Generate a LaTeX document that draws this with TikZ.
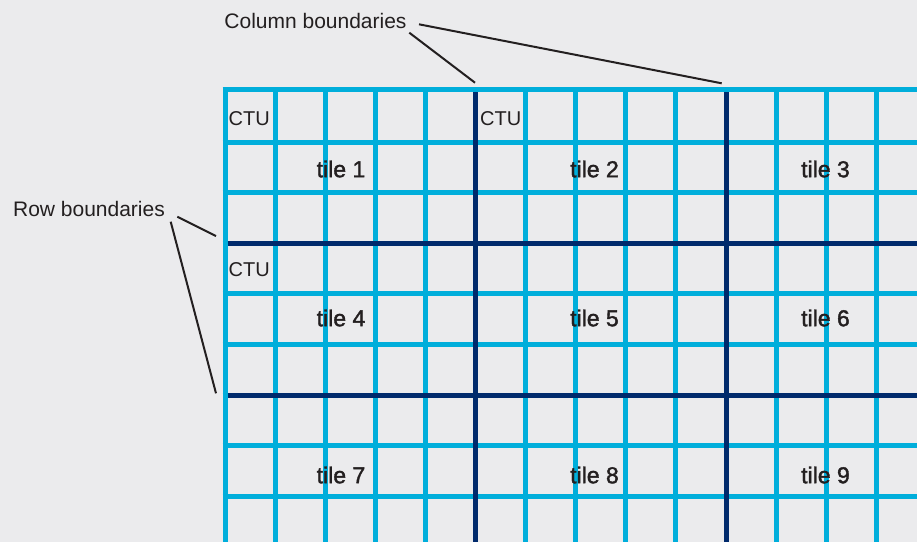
\documentclass[tikz,border=0pt]{standalone}
\usepackage{fontspec}
\setmainfont{Liberation Sans}
\newfontfamily\tilefont[FakeBold=1.6]{Liberation Sans}
\definecolor{bgc}{HTML}{EBEBED}
\definecolor{gridc}{HTML}{00AEDB}
\definecolor{tilec}{HTML}{002A6C}
\definecolor{txtc}{HTML}{231F20}
\tikzset{
  lightline/.style={draw=gridc,line width=5pt},
  darkline/.style={draw=tilec,line width=5pt},
  leader/.style={draw=txtc,line width=2pt},
  lbl/.style={text=txtc,inner sep=0pt,font=\fontsize{21}{24}\selectfont},
  ctu/.style={text=txtc,inner sep=0pt,anchor=west,font=\fontsize{20}{24}\selectfont},
  tilelbl/.style={text=txtc,inner sep=0pt,font=\tilefont\fontsize{23}{26}\selectfont}
}
\begin{document}
\begin{tikzpicture}[x=1pt,y=-1pt]
\fill[bgc] (0,0) rectangle (917,542);
\useasboundingbox (0,0) rectangle (917,542);
% light grid
\foreach \k in {0,...,13}
  \draw[lightline] ({225+50.1*\k},87) -- ({225+50.1*\k},542);
\foreach \y in {89.5,142,192.6,243.2,293.8,344.4,395,445.6,496.2}
  \draw[lightline] (222.5,\y) -- (917,\y);
% tile boundaries
\draw[darkline] (475.5,92) -- (475.5,542);
\draw[darkline] (726,92) -- (726,542);
\draw[darkline] (227.5,243.2) -- (917,243.2);
\draw[darkline] (227.5,395) -- (917,395);
% CTU labels
\node[ctu] (ctu1) at (228.5,118.3) {CTU};
\node[ctu] (ctu2) at (480,118.3) {CTU};
\node[ctu] (ctu3) at (228.5,270) {CTU};
% tile labels
\node[tilelbl] (t1) at (341,169) {tile 1};
\node[tilelbl] (t2) at (594.5,169) {tile 2};
\node[tilelbl] (t3) at (825.5,169) {tile 3};
\node[tilelbl] (t4) at (341,318) {tile 4};
\node[tilelbl] (t5) at (594.5,318) {tile 5};
\node[tilelbl] (t6) at (825.5,318) {tile 6};
\node[tilelbl] (t7) at (341,475) {tile 7};
\node[tilelbl] (t8) at (594.5,475) {tile 8};
\node[tilelbl] (t9) at (825.5,475) {tile 9};
% callouts
\node[lbl] (colb) at (315.5,21) {Column boundaries};
\node[lbl] (rowb) at (89,208.5) {Row boundaries};
\coordinate (cs1) at (409.3,32.7);
\coordinate (ce1) at (475,82.7);
\coordinate (cs2) at (419,24.3);
\coordinate (ce2) at (721.7,83.3);
\coordinate (rs1) at (177.3,216.7);
\coordinate (re1) at (216,236);
\coordinate (rs2) at (170.7,221.7);
\coordinate (re2) at (216,393.3);
\draw[leader] (cs1) -- (ce1);
\draw[leader] (cs2) -- (ce2);
\draw[leader] (rs1) -- (re1);
\draw[leader] (rs2) -- (re2);
\end{tikzpicture}
\end{document}
